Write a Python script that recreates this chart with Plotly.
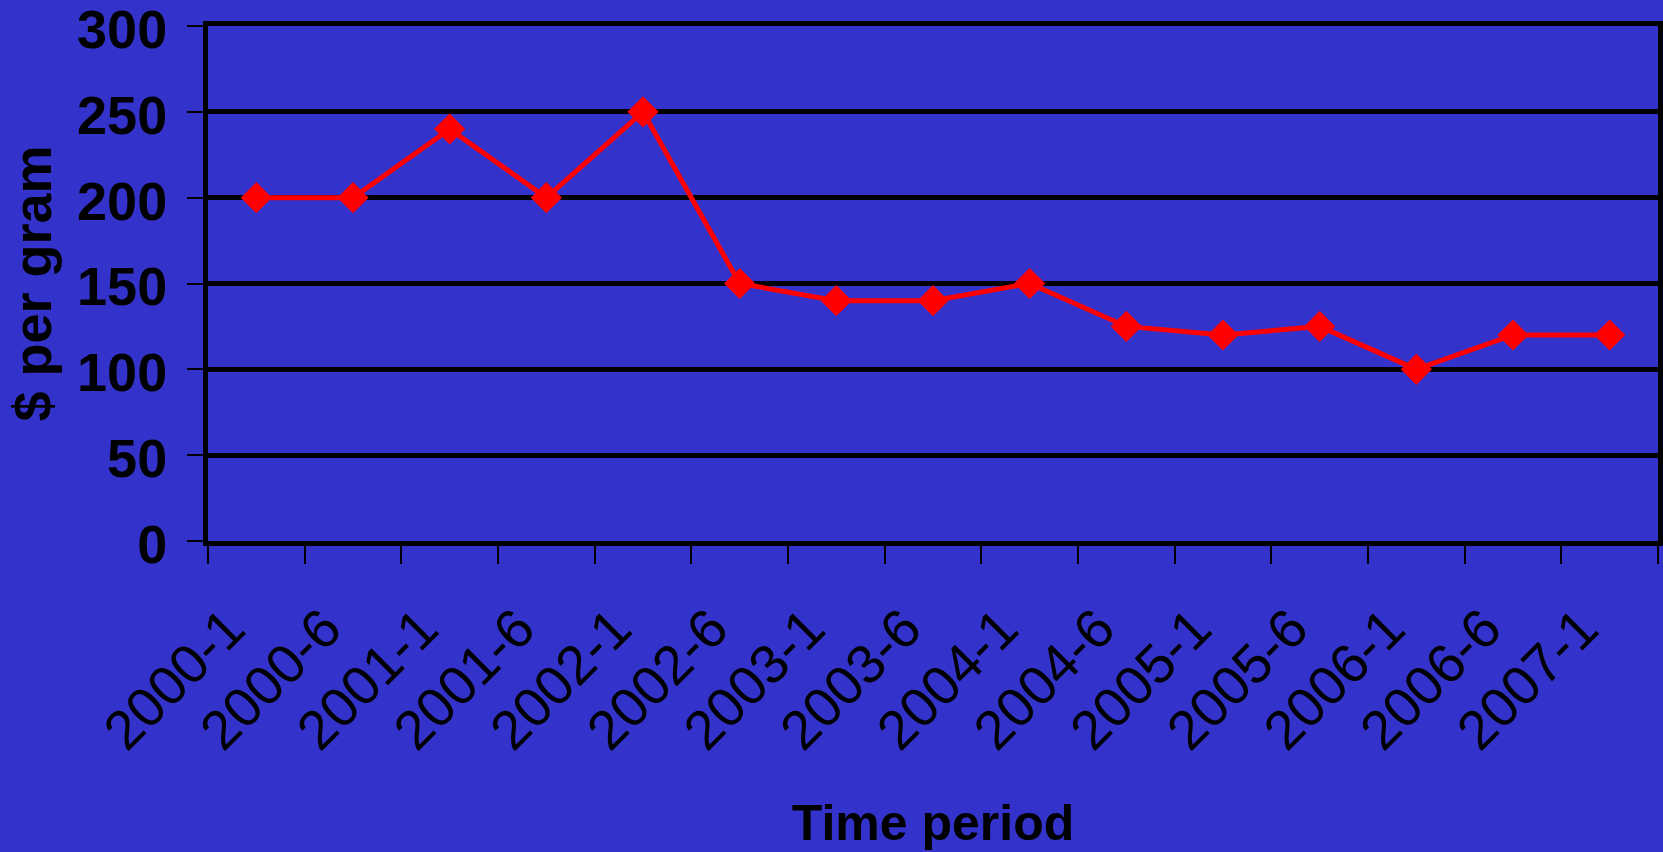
import plotly.graph_objects as go

categories = ["2000-1", "2000-6", "2001-1", "2001-6", "2002-1", "2002-6", "2003-1",
              "2003-6", "2004-1", "2004-6", "2005-1", "2005-6", "2006-1", "2006-6", "2007-1"]
price_per_gram = [200, 200, 240, 200, 250, 150, 140, 140, 150, 125, 120, 125, 100, 120, 120]
y_ticks = [0, 50, 100, 150, 200, 250, 300]

BG = "#3333CC"
FONT = "Liberation Sans, Arial, sans-serif"

fig = go.Figure()
fig.add_trace(go.Scatter(
    x=categories, y=price_per_gram, mode="lines+markers",
    line=dict(color="#FF0000", width=5),
    marker=dict(symbol="diamond", size=24, color="#FF0000"),
    showlegend=False, cliponaxis=False,
))

fig.update_layout(
    width=1663, height=852,
    paper_bgcolor=BG, plot_bgcolor=BG,
    margin=dict(l=208, r=5, t=26, b=311),
    font=dict(family=FONT, color="black"),
    xaxis=dict(
        type="category", range=[-0.5, 14.5],
        tickson="boundaries", ticks="outside", ticklen=18, tickwidth=2, tickcolor="black",
        showgrid=False, showline=True, linecolor="black", linewidth=5, mirror=True,
        tickangle=-45, tickfont=dict(size=55, family=FONT, color="black"),
        ticklabelstandoff=28, ticklabelshift=-28,
        title=dict(text="Time period", font=dict(size=50, family=FONT, weight="bold"), standoff=46),
        automargin=False,
    ),
    yaxis=dict(
        range=[0, 300], tickvals=y_ticks,
        ticks="outside", ticklen=16, tickwidth=2, tickcolor="black",
        showgrid=True, gridcolor="black", gridwidth=5,
        showline=True, linecolor="black", linewidth=5, mirror=True,
        zeroline=False,
        tickfont=dict(size=54, family=FONT, weight="bold", color="black"),
        ticklabelstandoff=9, ticklabelshift=3, ticklabeloverflow="allow",
        title=dict(text="$ per gram", font=dict(size=54, family=FONT, weight="bold"), standoff=10),
        automargin=False,
    ),
)

fig.write_html(
    "out.html",
    config={"displayModeBar": False},
    post_script="document.body.style.margin='0';document.body.style.background='#3333CC';",
)
